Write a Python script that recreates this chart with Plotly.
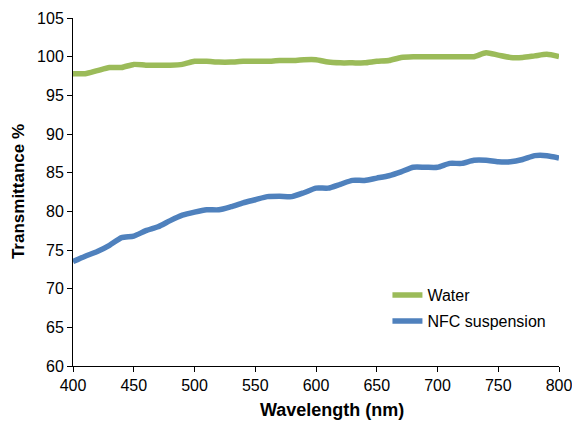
import plotly.graph_objects as go

wavelength = list(range(400, 801, 10))
water = [97.8, 97.8, 98.2, 98.6, 98.6, 99.0, 98.9, 98.9, 98.9, 99.0,
         99.4, 99.4, 99.3, 99.3, 99.4, 99.4, 99.4, 99.5, 99.5, 99.6,
         99.6, 99.3, 99.2, 99.2, 99.2, 99.4, 99.5, 99.9, 100.0, 100.0,
         100.0, 100.0, 100.0, 100.0, 100.5, 100.2, 99.9, 99.9, 100.1, 100.3,
         100.0]
nfc = [73.5, 74.2, 74.8, 75.6, 76.6, 76.8, 77.5, 78.0, 78.8, 79.5,
       79.9, 80.2, 80.2, 80.6, 81.1, 81.5, 81.9, 81.95, 81.9, 82.4,
       83.0, 83.0, 83.5, 84.0, 84.0, 84.3, 84.6, 85.1, 85.7, 85.7,
       85.7, 86.2, 86.2, 86.6, 86.6, 86.4, 86.4, 86.7, 87.2, 87.2,
       86.9]
x_ticks = [400, 450, 500, 550, 600, 650, 700, 750, 800]
y_ticks = [60, 65, 70, 75, 80, 85, 90, 95, 100, 105]

font_family = "Liberation Sans, Arial, sans-serif"

fig = go.Figure()
fig.add_trace(go.Scatter(x=wavelength, y=water, mode="lines", name="Water",
                         line=dict(color="#9BBB59", width=5.5, shape="spline", smoothing=0.6),
                         legend="legend", showlegend=True))
fig.add_trace(go.Scatter(x=wavelength, y=nfc, mode="lines", name="NFC suspension",
                         line=dict(color="#4F81BD", width=5.5, shape="spline", smoothing=0.6),
                         legend="legend2", showlegend=True))

leg_common = dict(font=dict(family=font_family, size=16, color="black"),
                  bgcolor="rgba(0,0,0,0)", xanchor="left", yanchor="middle",
                  itemwidth=30)
fig.update_layout(
    width=572, height=423,
    margin=dict(l=73, r=13, t=18, b=57, autoexpand=False),
    paper_bgcolor="white", plot_bgcolor="white",
    showlegend=True,
    font=dict(family=font_family, size=15, color="black"),
    legend=dict(x=0.647, y=0.204, visible=True, **leg_common),
    legend2=dict(x=0.647, y=0.129, visible=True, **leg_common),
    xaxis=dict(range=[400, 800], tickvals=x_ticks, ticks="outside", ticklen=5,
               tickcolor="black", showline=True, linecolor="black", linewidth=1,
               showgrid=False, zeroline=False, ticklabeloverflow="allow",
               automargin=False,
               tickfont=dict(family=font_family, size=16, color="black")),
    yaxis=dict(range=[60, 105], tickvals=y_ticks, ticks="outside", ticklen=5,
               tickcolor="black", showline=True, linecolor="black", linewidth=1,
               showgrid=False, zeroline=False, automargin=False,
               tickfont=dict(family=font_family, size=16, color="black")),
    annotations=[
        dict(text="<b>Wavelength (nm)</b>", xref="paper", yref="paper",
             x=0.532, y=-0.126, xanchor="center", yanchor="middle", showarrow=False,
             font=dict(family=font_family, size=18, color="black")),
        dict(text="<b>Transmittance %</b>", xref="paper", yref="paper",
             x=-0.113, y=0.5, xanchor="center", yanchor="middle", showarrow=False,
             textangle=-90, font=dict(family=font_family, size=17, color="black")),
    ],
)

fig.write_html("out.html")
